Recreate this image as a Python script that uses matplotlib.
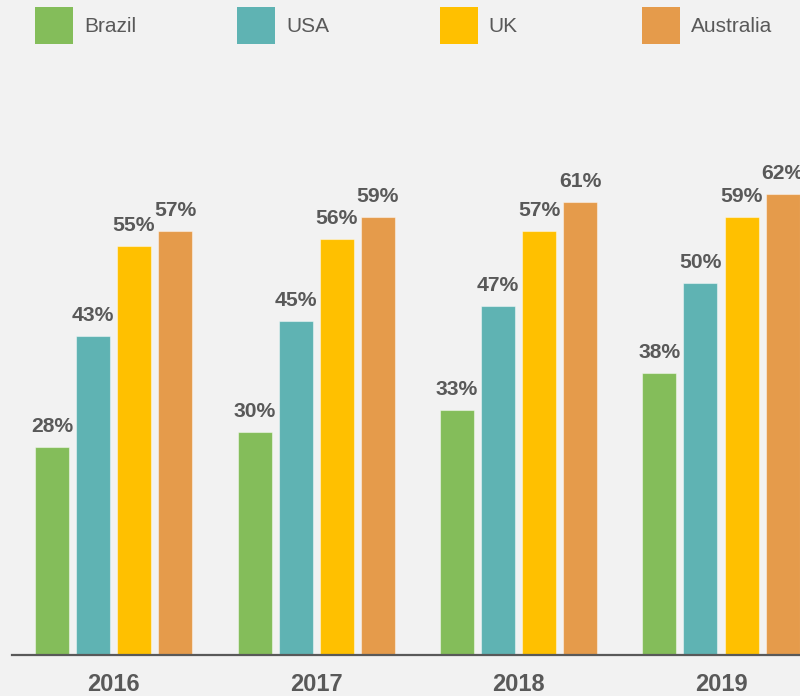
import matplotlib
matplotlib.use("Agg")
import matplotlib.pyplot as plt
import numpy as np
from matplotlib.patches import Patch

years = ["2016", "2017", "2018", "2019"]
countries = ["Brazil", "USA", "UK", "Australia"]
brazil = [28, 30, 33, 38]
usa = [43, 45, 47, 50]
uk = [55, 56, 57, 59]
australia = [57, 59, 61, 62]
series = [brazil, usa, uk, australia]
colors = ["#84BD5A", "#5FB3B3", "#FFC000", "#E59B4B"]

BG = "#F2F2F2"
TXT = "#595959"
plt.rcParams["font.family"] = ["Liberation Sans", "DejaVu Sans"]

W, H = 800, 696
fig = plt.figure(figsize=(W / 100, H / 100), dpi=100, facecolor=BG)

# axes in pixel terms
left_px, right_px, base_px, top_px = 12, 800, 655, 0
ax = fig.add_axes([left_px / W, (H - base_px) / H, (right_px - left_px) / W, (base_px - top_px) / H])
ax.set_facecolor(BG)

group_px = 202.5
c0 = 113.5
px_per_pct = 7.43
ax.set_xlim((left_px - c0) / group_px, (right_px - c0) / group_px)
ax.set_ylim(0, (base_px - top_px) / px_per_pct)

x = np.arange(len(years))
bw = 34 / group_px
step = 41 / group_px
offsets = (np.arange(4) - 1.5) * step
for s, vals, col, off in zip(countries, series, colors, offsets):
    bars = ax.bar(x + off, vals, width=bw, color=col, edgecolor=(1, 1, 1, 0.45), linewidth=0.8, label=s)
    for b, v in zip(bars, vals):
        ax.annotate(f"{v}%", (b.get_x() + b.get_width() / 2, v), xytext=(0, 10.8),
                    textcoords="offset points", ha="center", va="baseline",
                    fontsize=15.2, fontweight="bold", color=TXT, annotation_clip=False)

for sp in ["top", "right", "left"]:
    ax.spines[sp].set_visible(False)
ax.spines["bottom"].set_color(TXT)
ax.spines["bottom"].set_linewidth(1.6)
ax.set_yticks([])
ax.set_xticks(x)
ax.set_xticklabels(years, fontsize=17, fontweight="bold", color=TXT)
ax.tick_params(axis="x", length=0, pad=13)

# legend: one entry per box, spaced like the groups
for i, (s, col) in enumerate(zip(countries, colors)):
    xpx = 35 + i * 202.3
    leg = fig.legend(handles=[Patch(facecolor=col, edgecolor="none")], labels=[s],
                     loc="upper left", bbox_to_anchor=(xpx / W, 1 - 7 / H),
                     frameon=False, fontsize=15, handlelength=1.83, handleheight=2.33,
                     handletextpad=0.53, borderpad=0, borderaxespad=0, labelcolor=TXT)

fig.savefig("out.png", dpi=100, facecolor=BG)
